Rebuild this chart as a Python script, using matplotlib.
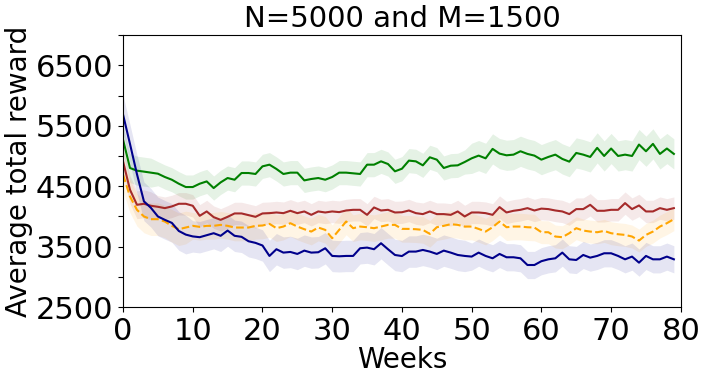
import numpy as np
import matplotlib.pyplot as plt

weeks = np.arange(80)

green_mean = [5272, 4802, 4758, 4742, 4725, 4708, 4653, 4608, 4542, 4487,
              4487, 4542, 4580, 4470, 4564, 4636, 4608, 4719, 4719, 4703,
              4829, 4857, 4786, 4703, 4725, 4725, 4597, 4620, 4636, 4608,
              4653, 4725, 4725, 4714, 4703, 4857, 4857, 4912, 4868, 4747,
              4790, 4924, 4912, 4846, 4979, 4940, 4802, 4840, 4846, 4901,
              4962, 5007, 4962, 5118, 5040, 5012, 5023, 5079, 5035, 5007,
              4940, 4985, 5023, 4952, 4907, 5051, 5023, 4985, 5135, 5001,
              5124, 5001, 5023, 5001, 5190, 5079, 5201, 5035, 5124, 5035]
red_mean = [4912, 4442, 4193, 4210, 4177, 4160, 4138, 4166, 4210, 4210,
            4177, 4011, 4083, 3989, 3944, 3994, 4050, 4050, 4022, 3994,
            4050, 4055, 4066, 4055, 4094, 4055, 4083, 4027, 4083, 4066,
            4083, 4072, 4099, 4110, 4110, 4027, 4149, 4099, 4110, 4066,
            4070, 4099, 4055, 4039, 4083, 4039, 4039, 4027, 4083, 4000,
            4066, 4066, 4055, 4027, 4155, 4066, 4094, 4110, 4138, 4099,
            4130, 4122, 4099, 4083, 4039, 4122, 4122, 4193, 4094, 4094,
            4110, 4110, 4221, 4122, 4182, 4083, 4083, 4138, 4110, 4138]
orange_mean = [4692, 4331, 4110, 4000, 3955, 3955, 3916, 3845, 3789, 3817,
               3845, 3828, 3845, 3845, 3861, 3845, 3817, 3817, 3817, 3845,
               3850, 3878, 3806, 3833, 3889, 3833, 3789, 3750, 3817, 3778,
               3640, 3778, 3917, 3806, 3833, 3822, 3806, 3833, 3861, 3861,
               3795, 3794, 3789, 3778, 3712, 3822, 3845, 3872, 3861, 3833,
               3833, 3794, 3750, 3822, 3917, 3822, 3833, 3833, 3822, 3817,
               3740, 3739, 3668, 3657, 3723, 3806, 3767, 3750, 3739, 3761,
               3723, 3706, 3695, 3668, 3601, 3695, 3750, 3833, 3889, 3955]
blue_mean = [5687, 5200, 4700, 4250, 4143, 4000, 3944, 3894, 3760, 3700,
             3670, 3657, 3690, 3723, 3680, 3767, 3680, 3663, 3590, 3563,
             3520, 3347, 3458, 3402, 3413, 3380, 3435, 3402, 3408, 3474,
             3347, 3341, 3347, 3347, 3474, 3485, 3458, 3557, 3458, 3363,
             3345, 3419, 3419, 3446, 3419, 3380, 3435, 3402, 3363, 3347,
             3336, 3402, 3347, 3308, 3380, 3325, 3325, 3308, 3197, 3197,
             3260, 3291, 3308, 3402, 3291, 3280, 3363, 3319, 3347, 3391,
             3391, 3347, 3291, 3336, 3236, 3347, 3291, 3291, 3336, 3291]

# half width of the shaded band
green_sd = [240] * 5 + [200] * 45 + [250] * 30
red_sd = [230] * 5 + [185] * 75
orange_sd = [270] * 10 + [220] * 50 + [190] * 20
blue_sd = [320] * 10 + [260] * 40 + [225] * 30

ytick_values = [2500, 3000, 3500, 4000, 4500, 5000, 5500, 6000, 6500, 7000]
ytick_labels = ['2500', '', '3500', '', '4500', '', '5500', '', '6500', '']
xtick_values = [0, 10, 20, 30, 40, 50, 60, 70, 80]

series = [
    (green_mean, green_sd, 'green', '-'),
    (red_mean, red_sd, 'brown', '-'),
    (orange_mean, orange_sd, 'orange', '--'),
    (blue_mean, blue_sd, 'darkblue', '-'),
]

fig = plt.figure(figsize=(7.07, 3.82), dpi=100)
ax = fig.add_subplot(111)
fig.subplots_adjust(left=0.174, right=0.963, bottom=0.196, top=0.908)

for mean, sd, color, ls in series:
    mean = np.array(mean)
    sd = np.array(sd)
    ax.plot(weeks, mean, color=color, linestyle=ls, linewidth=1.5)
    ax.fill_between(weeks, mean - sd, mean + sd, color=color, alpha=0.1, linewidth=0)

ax.set_xlim(0, 80)
ax.set_ylim(2500, 7000)
ax.set_xticks(xtick_values)
ax.set_yticks(ytick_values)
ax.set_yticklabels(ytick_labels)
ax.tick_params(labelsize=22)
ax.set_xlabel('Weeks', fontsize=20, labelpad=0)
ax.set_ylabel('Average total reward', fontsize=20, labelpad=2)
ax.set_title('N=5000 and M=1500', fontsize=21)

fig.savefig('out.png', dpi=100)
